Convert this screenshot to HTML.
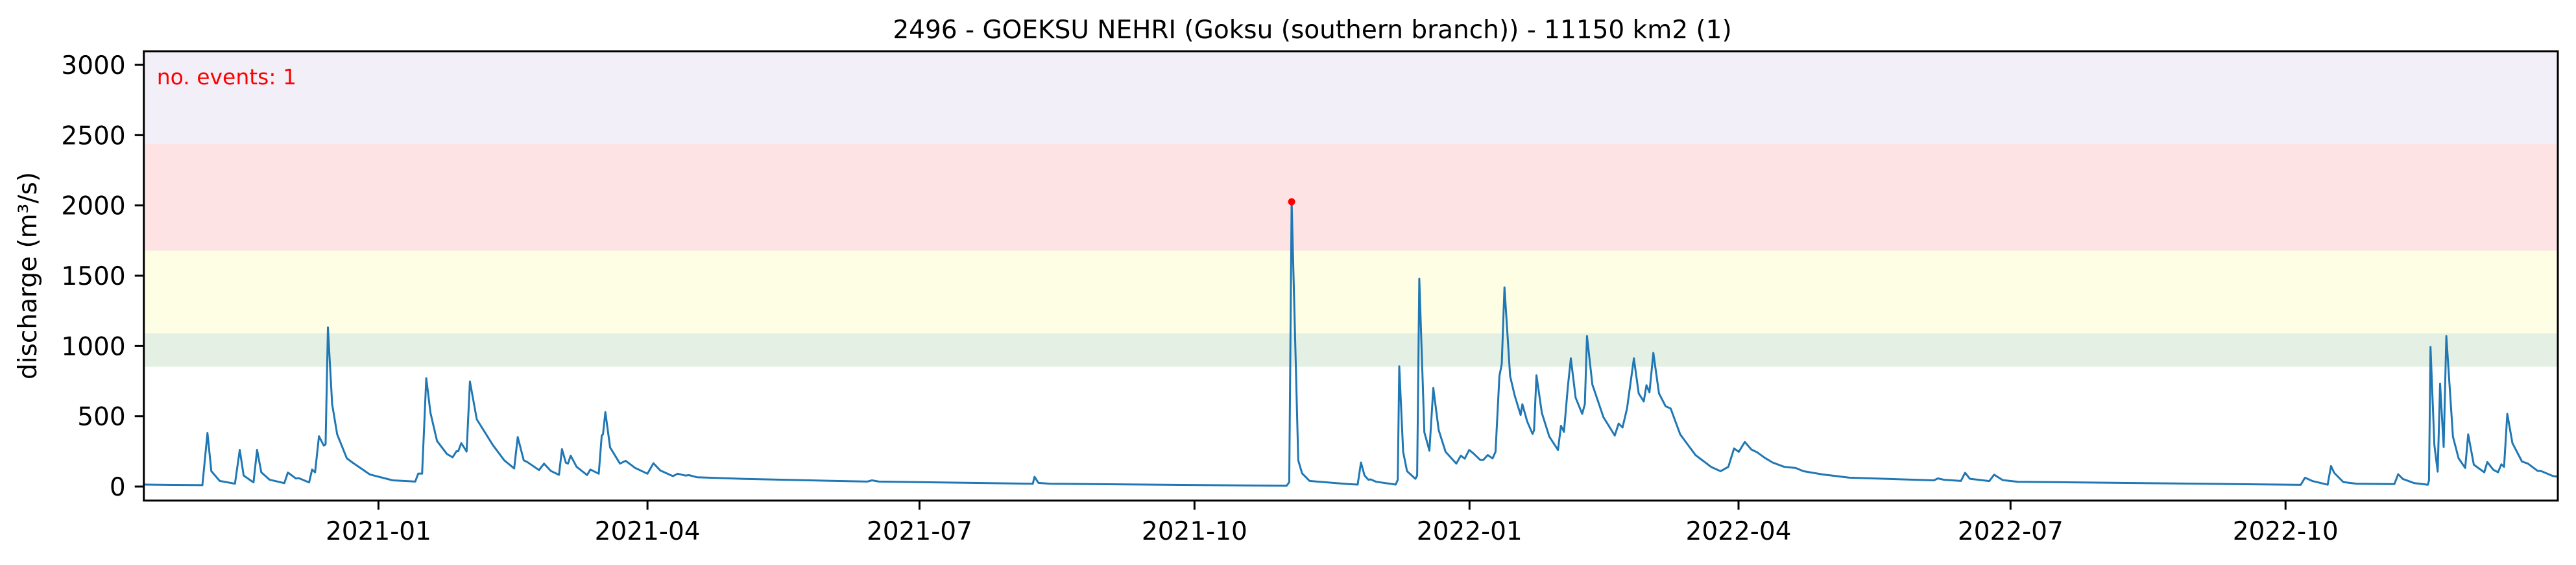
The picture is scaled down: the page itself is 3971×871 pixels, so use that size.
<!DOCTYPE html>
<html><head><meta charset="utf-8"><style>
html,body{margin:0;padding:0;background:#fff;}
svg{display:block;font-family:"DejaVu Sans","Liberation Sans",sans-serif;}
</style></head><body>
<svg id="chart" width="3971" height="871" viewBox="0 0 3971 871" xmlns="http://www.w3.org/2000/svg">
<text x="2023" y="59" font-size="39" text-anchor="middle" fill="#000">2496 - GOEKSU NEHRI (Goksu (southern branch)) - 11150 km2 (1)</text>
<g id="plot"></g>
<text transform="translate(56,425) rotate(-90)" font-size="39" text-anchor="middle" fill="#000">discharge (m³/s)</text>
</svg>
<script>
// Days since 2021-01-01
const days = [-78.5,-58.9,-57.2,-55.9,-53.1,-48.0,-46.4,-45.1,-41.8,-40.6,-39.2,-36.4,-31.5,-30.3,-27.6,-26.7,-23.2,-22.2,-21.2,-19.9,-18.3,-17.7,-16.9,-15.5,-13.8,-10.6,-8.7,-2.9,4.8,12.3,13.3,14.6,16.0,17.4,19.6,22.9,24.8,26.1,26.7,27.7,29.5,30.6,32.9,38.3,42.1,45.4,46.6,48.6,49.8,53.7,55.4,57.6,60.4,61.4,62.7,63.4,64.3,66.3,69.8,70.9,73.7,74.7,75.1,75.9,77.5,80.8,82.7,85.9,90.0,92.0,94.3,98.5,100.1,102.6,103.9,106.5,122.6,163.5,165.1,167.4,218.9,219.5,220.8,224.6,303.8,304.7,305.5,307.7,309.0,311.5,324.4,327.6,328.7,329.9,331.2,331.9,333.8,340.3,341.0,341.5,342.8,344.1,346.9,347.5,348.2,349.9,351.6,352.9,354.7,357.0,360.6,362.1,363.4,364.9,366.3,368.6,369.6,371.1,372.7,373.7,375.0,375.8,376.7,378.6,380.1,382.1,382.7,384.3,386.1,386.6,387.4,389.2,391.7,394.6,395.6,396.6,397.9,398.9,400.5,402.7,403.6,404.3,406.1,409.8,413.6,414.9,416.2,417.7,420.0,421.6,423.3,424.2,425.2,426.5,428.4,430.6,432.3,435.5,440.6,445.8,449.0,451.6,453.5,455.1,457.1,459.3,461.2,463.8,466.4,470.3,474.1,476.7,483.1,492.1,520.4,521.7,523.7,529.4,530.8,532.4,538.9,540.5,543.4,548.5,643.1,644.5,647.0,652.1,653.2,654.3,657.3,661.8,674.4,675.7,677.2,681.1,685.6,686.0,686.5,687.8,688.9,689.7,690.9,691.8,694.0,695.9,698.1,699.1,701.0,704.5,705.5,707.5,709.1,710.2,711.1,712.2,713.9,717.1,719.1,722.3,723.6,727.4,729.1];
const discharge = [14,10,381,109,40,20,261,78,29,261,101,48,24,100,57,60,29,121,101,358,291,300,1132,586,371,201,171,86,44,35,92,92,771,524,324,232,208,251,251,309,249,748,478,294,186,129,352,186,174,117,163,112,83,266,169,163,220,140,82,121,91,363,371,529,278,163,183,132,91,166,114,74,91,78,81,66,54,35,44,35,20,69,26,20,5,30,2026,186,94,40,17,14,171,78,48,51,34,14,48,855,247,109,55,78,1478,386,255,701,401,247,163,220,198,260,236,189,189,224,200,247,786,871,1417,786,648,509,586,463,374,401,791,524,355,260,432,389,709,912,632,517,586,1071,725,494,363,448,420,555,912,663,605,721,670,951,663,571,555,371,224,140,109,140,271,247,317,263,244,204,171,140,132,109,86,63,44,58,48,40,98,55,39,84,46,34,12,63,39,13,146,97,32,20,17,88,54,24,13,43,994,294,106,732,281,1071,355,201,132,371,155,101,174,119,101,158,140,517,309,178,163,112,109,75,70];
const eventDays = [305.5];
const eventValues = [2026];
const yTicks = [0,500,1000,1500,2000,2500,3000];
const xTickDays = [0,90,181,273,365,455,546,638];
const xTickLabels = ["2021-01","2021-04","2021-07","2021-10","2022-01","2022-04","2022-07","2022-10"];
const bandLows = [852,1091,1678,2440];
const bandHighs = [1091,1678,2440,3097];
const bandColors = ["#e5f0e4","#fefee4","#fee3e4","#f2eff9"];

const L=221.7,R=3943,T=79,B=771.7;
const xMin=-78.5,xMax=729.1,yMin=-100,yMax=3097;
const X=d=>L+(d-xMin)/(xMax-xMin)*(R-L);
const Y=v=>B-(v-yMin)/(yMax-yMin)*(B-T);
const NS="http://www.w3.org/2000/svg";
const g=document.getElementById('plot');
function mk(tag,attrs,parent){const e=document.createElementNS(NS,tag);for(const k in attrs)e.setAttribute(k,attrs[k]);(parent||g).appendChild(e);return e;}

bandLows.forEach((lo,i)=>{
  const r=mk('rect',{x:L,y:Y(bandHighs[i]),width:R-L,height:Y(lo)-Y(bandHighs[i]),fill:bandColors[i]});
  
  
});
const pts=days.map((d,i)=>X(d).toFixed(1)+','+Y(discharge[i]).toFixed(1)).join(' ');
const line=mk('polyline',{points:pts,fill:'none',stroke:'#1f77b4','stroke-width':3,'stroke-linejoin':'round'});


eventDays.forEach((d,i)=>{
  const c=mk('circle',{cx:X(d),cy:Y(eventValues[i]),r:5.5,fill:'#ff0000'});
  
  
});
const ev=mk('text',{x:241.7,y:130,'font-size':33,fill:'#ff0000'});
ev.textContent='no. events: 1';


const frame=mk('rect',{x:L,y:T,width:R-L,height:B-T,fill:'none',stroke:'#000','stroke-width':3});


yTicks.forEach(v=>{
  const tl=mk('line',{x1:L-14,x2:L,y1:Y(v),y2:Y(v),stroke:'#000','stroke-width':3});
  
  
  const t=mk('text',{x:L-28,y:Y(v)+14,'font-size':39,'text-anchor':'end',fill:'#000'});
  t.textContent=v;
  
  
});
xTickDays.forEach((d,i)=>{
  const tl=mk('line',{x1:X(d),x2:X(d),y1:B,y2:B+14,stroke:'#000','stroke-width':3});
  
  
  const t=mk('text',{x:X(d),y:832,'font-size':39,'text-anchor':'middle',fill:'#000'});
  t.textContent=xTickLabels[i];
  
  
});
</script>
</body></html>
